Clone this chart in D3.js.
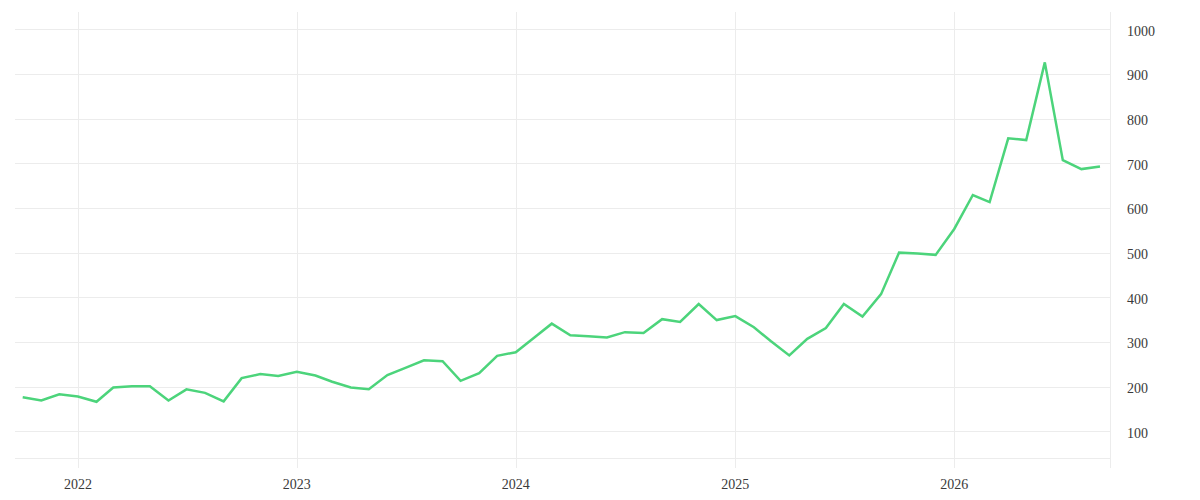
<!DOCTYPE html>
<html lang="en">
<head>
    <meta charset="UTF-8">
    <title>Monthly series</title>
    <script src="https://d3js.org/d3.v7.min.js"></script>
    <style>
        body {
            margin: 0;
            background-color: #ffffff;
        }
        svg {
            display: block;
        }
        .tick-label {
            font-family: "Liberation Serif", serif;
            font-size: 14px;
            fill: #3a3a3a;
        }
        .grid {
            stroke: #ececec;
            stroke-width: 1;
        }
    </style>
</head>
<body>
    <svg id="chart" width="1200" height="500"></svg>

    <script>
        // Monthly observations, Oct 2021 - Sep 2026
        const months = [
            "2021-10", "2021-11", "2021-12",
            "2022-01", "2022-02", "2022-03", "2022-04", "2022-05", "2022-06",
            "2022-07", "2022-08", "2022-09", "2022-10", "2022-11", "2022-12",
            "2023-01", "2023-02", "2023-03", "2023-04", "2023-05", "2023-06",
            "2023-07", "2023-08", "2023-09", "2023-10", "2023-11", "2023-12",
            "2024-01", "2024-02", "2024-03", "2024-04", "2024-05", "2024-06",
            "2024-07", "2024-08", "2024-09", "2024-10", "2024-11", "2024-12",
            "2025-01", "2025-02", "2025-03", "2025-04", "2025-05", "2025-06",
            "2025-07", "2025-08", "2025-09", "2025-10", "2025-11", "2025-12",
            "2026-01", "2026-02", "2026-03", "2026-04", "2026-05", "2026-06",
            "2026-07", "2026-08", "2026-09"
        ];
        const values = [
            176, 169, 183,
            178, 166, 198, 201, 201, 169, 194, 186, 167, 219, 228, 224,
            233, 225, 211, 198, 194, 226, 242, 259, 257, 213, 230, 269,
            277, 310, 341, 315, 313, 310, 322, 320, 351, 345, 385, 349,
            358, 333, 302, 270, 307, 331, 385, 357, 407, 500, 498, 495,
            553, 629, 613, 756, 752, 926, 707, 687, 693
        ];
        const yearTicks = ["2022", "2023", "2024", "2025", "2026"];
        const valueTicks = [100, 200, 300, 400, 500, 600, 700, 800, 900, 1000];

        const parseMonth = d3.utcParse("%Y-%m");
        const data = months.map((m, i) => ({ date: parseMonth(m), value: values[i] }));

        const plot = { left: 15, right: 1110, top: 12, bottom: 468 };

        const x = d3.scaleUtc()
            .domain(d3.extent(data, d => d.date))
            .range([22.7, 1100]);

        const y = d3.scaleLinear()
            .domain([100, 1000])
            .range([431.3, 29.3]);

        const svg = d3.select('#chart');

        // horizontal grid
        svg.append('g')
            .selectAll('line')
            .data(valueTicks)
            .enter()
            .append('line')
            .attr('class', 'grid')
            .attr('x1', plot.left)
            .attr('x2', plot.right)
            .attr('y1', d => Math.round(y(d)) + 0.5)
            .attr('y2', d => Math.round(y(d)) + 0.5);

        // bottom rule of the plot
        svg.append('line')
            .attr('class', 'grid')
            .attr('x1', plot.left)
            .attr('x2', plot.right)
            .attr('y1', 458.5)
            .attr('y2', 458.5);

        // vertical grid at year starts
        const yearDates = yearTicks.map(t => d3.utcParse("%Y")(t));
        svg.append('g')
            .selectAll('line')
            .data(yearDates)
            .enter()
            .append('line')
            .attr('class', 'grid')
            .attr('x1', d => Math.round(x(d)) + 0.5)
            .attr('x2', d => Math.round(x(d)) + 0.5)
            .attr('y1', plot.top)
            .attr('y2', plot.bottom);

        // right border next to the value axis
        svg.append('line')
            .attr('class', 'grid')
            .attr('x1', plot.right + 0.5)
            .attr('x2', plot.right + 0.5)
            .attr('y1', plot.top)
            .attr('y2', plot.bottom);

        // year labels
        svg.append('g')
            .selectAll('text')
            .data(yearDates)
            .enter()
            .append('text')
            .attr('class', 'tick-label')
            .attr('x', d => x(d))
            .attr('y', 488.5)
            .attr('text-anchor', 'middle')
            .text(d => d3.utcFormat("%Y")(d));

        // value labels on the right
        svg.append('g')
            .selectAll('text')
            .data(valueTicks)
            .enter()
            .append('text')
            .attr('class', 'tick-label')
            .attr('x', 1127)
            .attr('y', d => y(d) + 6.5)
            .text(d => d);

        const line = d3.line()
            .x(d => x(d.date))
            .y(d => y(d.value));

        svg.append('path')
            .datum(data)
            .attr('fill', 'none')
            .attr('stroke', '#4cd47b')
            .attr('stroke-width', 2.5)
            .attr('stroke-linejoin', 'miter')
            .attr('d', line);
    </script>
</body>
</html>
